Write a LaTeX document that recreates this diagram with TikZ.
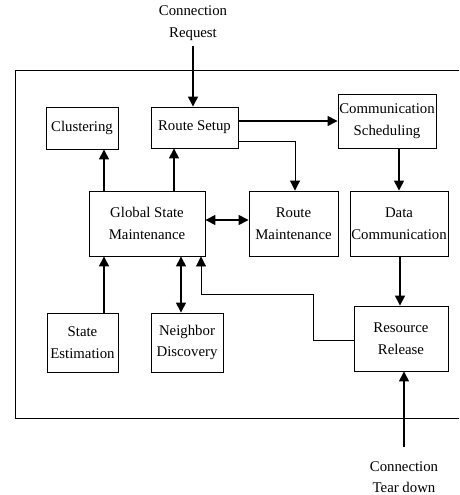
\documentclass[tikz,border=0pt]{standalone}
\usepackage{fontspec}
\setmainfont{Liberation Serif}
\usetikzlibrary{arrows.meta}
\begin{document}
\begin{tikzpicture}[x=1pt,y=-1pt,
  box/.style={draw,line width=0.9pt,inner sep=0pt,align=center,font=\fontsize{14.8}{21.5}\selectfont},
  lbl/.style={align=center,inner sep=0pt,font=\fontsize{14.8}{21.5}\selectfont},
  arr/.style={line width=1.5pt,-{Triangle[length=10pt,width=10pt]}},
  darr/.style={line width=1.5pt,{Triangle[length=10pt,width=10pt]}-{Triangle[length=10pt,width=10pt]}},
  thin/.style={line width=0.9pt,-{Triangle[length=10pt,width=10pt]}}]
\useasboundingbox (0,0) rectangle (459,495);
% frame
\draw[line width=0.9pt] (459,70) -- (15,70) -- (15,418) -- (459,418);
% boxes
\node[box,minimum width=72pt,minimum height=42pt] (clu) at (82,128) {Clustering};
\node[box,minimum width=87pt,minimum height=41pt] (rs) at (194.5,127.5) {Route Setup};
\node[box,minimum width=98pt,minimum height=54pt] (cs) at (387,121) {Communication\\Scheduling};
\node[box,minimum width=116pt,minimum height=65pt] (gsm) at (147,223.5) {Global State\\Maintenance};
\node[box,minimum width=89pt,minimum height=65pt] (rm) at (293.5,223.5) {Route\\Maintenance};
\node[box,minimum width=98pt,minimum height=65pt] (dc) at (399,223.5) {Data\\Communication};
\node[box,minimum width=71pt,minimum height=59pt] (se) at (82.5,342.5) {State\\Estimation};
\node[box,minimum width=72pt,minimum height=59pt] (nd) at (187,342.5) {Neighbor\\Discovery};
\node[box,minimum width=94pt,minimum height=65pt] (rr) at (401,338.5) {Resource\\Release};
% external labels
\node[lbl] (req) at (193,23) {Connection\\Request};
\node[lbl] (td) at (404,477) {Connection\\Tear down};
\coordinate (reqa) at (193,46);
\coordinate (tda) at (404,447);
% connectors
\draw[arr] (reqa) -- (rs.north -| reqa);
\draw[arr] (tda) -- (rr.south -| tda);
\draw[arr] (gsm.north -| 104,0) -- (clu.south -| 104,0);
\draw[arr] (gsm.north -| 174,0) -- (rs.south -| 174,0);
\draw[arr] (rs.east |- 0,121) -- (cs.west |- 0,121);
\draw[thin] (rs.east |- 0,141) -| (rm.north -| 295,0);
\draw[arr] (cs.south -| 399,0) -- (dc.north -| 399,0);
\draw[darr] (gsm.east |- 0,220) -- (rm.west |- 0,220);
\draw[arr] (dc.south -| 400,0) -- (rr.north -| 400,0);
\draw[arr] (se.north -| 104,0) -- (gsm.south -| 104,0);
\draw[darr] (nd.north -| 181,0) -- (gsm.south -| 181,0);
\draw[thin] (rr.west |- 0,340) -- (313,340) -- (313,294) -- (201,294) -- (gsm.south -| 201,0);
\end{tikzpicture}
\end{document}
